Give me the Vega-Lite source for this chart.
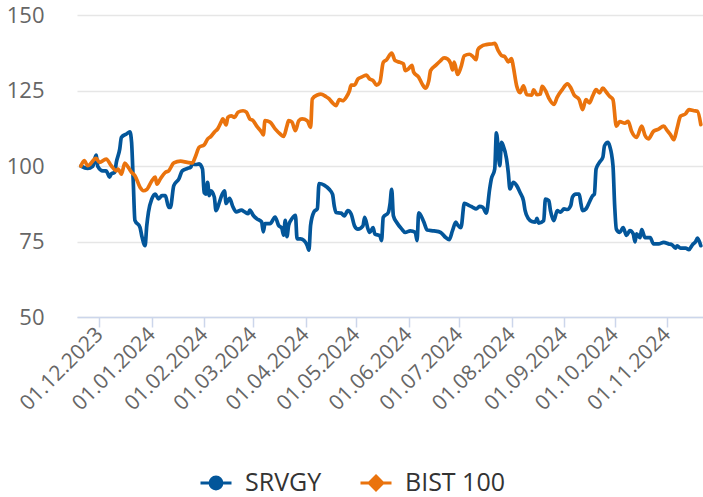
{
  "$schema": "https://vega.github.io/schema/vega-lite/v6.json",
  "width": 626,
  "height": 302,
  "autosize": {"type": "none"},
  "padding": {"left": 77, "top": 15, "right": 0, "bottom": 180},
  "background": "white",
  "config": {"view": {"stroke": null}, "font": "Open Sans"},
  "data": {"values": [
    {"date":"2023-11-20","series":"SRVGY","value":100},
    {"date":"2023-11-24","series":"SRVGY","value":99.2},
    {"date":"2023-11-27","series":"SRVGY","value":99.9},
    {"date":"2023-11-29","series":"SRVGY","value":103.6},
    {"date":"2023-11-30","series":"SRVGY","value":99.9},
    {"date":"2023-12-03","series":"SRVGY","value":98.4},
    {"date":"2023-12-05","series":"SRVGY","value":98.4},
    {"date":"2023-12-06","series":"SRVGY","value":97.4},
    {"date":"2023-12-07","series":"SRVGY","value":96.3},
    {"date":"2023-12-08","series":"SRVGY","value":97.4},
    {"date":"2023-12-10","series":"SRVGY","value":97.9},
    {"date":"2023-12-11","series":"SRVGY","value":101.2},
    {"date":"2023-12-13","series":"SRVGY","value":105.6},
    {"date":"2023-12-14","series":"SRVGY","value":109.5},
    {"date":"2023-12-17","series":"SRVGY","value":110.6},
    {"date":"2023-12-19","series":"SRVGY","value":111.3},
    {"date":"2023-12-20","series":"SRVGY","value":108},
    {"date":"2023-12-21","series":"SRVGY","value":95},
    {"date":"2023-12-22","series":"SRVGY","value":82},
    {"date":"2023-12-25","series":"SRVGY","value":79.7},
    {"date":"2023-12-26","series":"SRVGY","value":77},
    {"date":"2023-12-28","series":"SRVGY","value":73.6},
    {"date":"2023-12-29","series":"SRVGY","value":80.2},
    {"date":"2023-12-30","series":"SRVGY","value":84.7},
    {"date":"2024-01-01","series":"SRVGY","value":89.1},
    {"date":"2024-01-03","series":"SRVGY","value":90.7},
    {"date":"2024-01-05","series":"SRVGY","value":89.1},
    {"date":"2024-01-07","series":"SRVGY","value":90.2},
    {"date":"2024-01-09","series":"SRVGY","value":90.2},
    {"date":"2024-01-11","series":"SRVGY","value":86.3},
    {"date":"2024-01-12","series":"SRVGY","value":86.3},
    {"date":"2024-01-14","series":"SRVGY","value":93.5},
    {"date":"2024-01-17","series":"SRVGY","value":95.7},
    {"date":"2024-01-19","series":"SRVGY","value":98.4},
    {"date":"2024-01-22","series":"SRVGY","value":99.2},
    {"date":"2024-01-24","series":"SRVGY","value":99.6},
    {"date":"2024-01-25","series":"SRVGY","value":100.7},
    {"date":"2024-01-27","series":"SRVGY","value":100.5},
    {"date":"2024-01-29","series":"SRVGY","value":100.7},
    {"date":"2024-01-31","series":"SRVGY","value":99},
    {"date":"2024-02-01","series":"SRVGY","value":91.2},
    {"date":"2024-02-02","series":"SRVGY","value":90.7},
    {"date":"2024-02-03","series":"SRVGY","value":94.6},
    {"date":"2024-02-04","series":"SRVGY","value":90.2},
    {"date":"2024-02-05","series":"SRVGY","value":91.8},
    {"date":"2024-02-07","series":"SRVGY","value":89.7},
    {"date":"2024-02-08","series":"SRVGY","value":85.2},
    {"date":"2024-02-10","series":"SRVGY","value":88},
    {"date":"2024-02-11","series":"SRVGY","value":89.7},
    {"date":"2024-02-13","series":"SRVGY","value":91.8},
    {"date":"2024-02-14","series":"SRVGY","value":87.6},
    {"date":"2024-02-16","series":"SRVGY","value":89.3},
    {"date":"2024-02-18","series":"SRVGY","value":86.5},
    {"date":"2024-02-20","series":"SRVGY","value":84.8},
    {"date":"2024-02-23","series":"SRVGY","value":85.4},
    {"date":"2024-02-25","series":"SRVGY","value":84.8},
    {"date":"2024-02-27","series":"SRVGY","value":84.2},
    {"date":"2024-02-28","series":"SRVGY","value":85.4},
    {"date":"2024-03-01","series":"SRVGY","value":83.7},
    {"date":"2024-03-03","series":"SRVGY","value":82.6},
    {"date":"2024-03-06","series":"SRVGY","value":81.5},
    {"date":"2024-03-07","series":"SRVGY","value":78.2},
    {"date":"2024-03-08","series":"SRVGY","value":80.9},
    {"date":"2024-03-11","series":"SRVGY","value":80.9},
    {"date":"2024-03-14","series":"SRVGY","value":83.1},
    {"date":"2024-03-16","series":"SRVGY","value":80.4},
    {"date":"2024-03-18","series":"SRVGY","value":79.3},
    {"date":"2024-03-19","series":"SRVGY","value":77.1},
    {"date":"2024-03-20","series":"SRVGY","value":82},
    {"date":"2024-03-21","series":"SRVGY","value":76.6},
    {"date":"2024-03-22","series":"SRVGY","value":80.4},
    {"date":"2024-03-24","series":"SRVGY","value":82.6},
    {"date":"2024-03-26","series":"SRVGY","value":83.7},
    {"date":"2024-03-27","series":"SRVGY","value":75.9},
    {"date":"2024-03-29","series":"SRVGY","value":75.9},
    {"date":"2024-03-31","series":"SRVGY","value":75.4},
    {"date":"2024-04-02","series":"SRVGY","value":73.7},
    {"date":"2024-04-03","series":"SRVGY","value":72.1},
    {"date":"2024-04-04","series":"SRVGY","value":80.4},
    {"date":"2024-04-06","series":"SRVGY","value":84.8},
    {"date":"2024-04-08","series":"SRVGY","value":85.9},
    {"date":"2024-04-09","series":"SRVGY","value":94.2},
    {"date":"2024-04-12","series":"SRVGY","value":93.7},
    {"date":"2024-04-15","series":"SRVGY","value":92.3},
    {"date":"2024-04-17","series":"SRVGY","value":90.6},
    {"date":"2024-04-18","series":"SRVGY","value":86.8},
    {"date":"2024-04-19","series":"SRVGY","value":84.6},
    {"date":"2024-04-22","series":"SRVGY","value":84.4},
    {"date":"2024-04-24","series":"SRVGY","value":83.5},
    {"date":"2024-04-26","series":"SRVGY","value":85.2},
    {"date":"2024-04-28","series":"SRVGY","value":84.1},
    {"date":"2024-04-30","series":"SRVGY","value":80.2},
    {"date":"2024-05-02","series":"SRVGY","value":79.1},
    {"date":"2024-05-05","series":"SRVGY","value":80.2},
    {"date":"2024-05-06","series":"SRVGY","value":83},
    {"date":"2024-05-08","series":"SRVGY","value":79.1},
    {"date":"2024-05-09","series":"SRVGY","value":78},
    {"date":"2024-05-11","series":"SRVGY","value":79.6},
    {"date":"2024-05-12","series":"SRVGY","value":77.5},
    {"date":"2024-05-15","series":"SRVGY","value":76.9},
    {"date":"2024-05-16","series":"SRVGY","value":75.3},
    {"date":"2024-05-17","series":"SRVGY","value":83},
    {"date":"2024-05-20","series":"SRVGY","value":84.6},
    {"date":"2024-05-21","series":"SRVGY","value":87.4},
    {"date":"2024-05-22","series":"SRVGY","value":92.3},
    {"date":"2024-05-23","series":"SRVGY","value":83.5},
    {"date":"2024-05-25","series":"SRVGY","value":81.3},
    {"date":"2024-05-28","series":"SRVGY","value":79.1},
    {"date":"2024-05-30","series":"SRVGY","value":78},
    {"date":"2024-06-02","series":"SRVGY","value":78.5},
    {"date":"2024-06-05","series":"SRVGY","value":78},
    {"date":"2024-06-06","series":"SRVGY","value":75.3},
    {"date":"2024-06-07","series":"SRVGY","value":84.5},
    {"date":"2024-06-10","series":"SRVGY","value":81.5},
    {"date":"2024-06-12","series":"SRVGY","value":78.8},
    {"date":"2024-06-16","series":"SRVGY","value":78.5},
    {"date":"2024-06-20","series":"SRVGY","value":78},
    {"date":"2024-06-23","series":"SRVGY","value":76.3},
    {"date":"2024-06-25","series":"SRVGY","value":75.6},
    {"date":"2024-06-27","series":"SRVGY","value":78.6},
    {"date":"2024-06-29","series":"SRVGY","value":81.4},
    {"date":"2024-06-30","series":"SRVGY","value":80.5},
    {"date":"2024-07-02","series":"SRVGY","value":79.6},
    {"date":"2024-07-04","series":"SRVGY","value":87.6},
    {"date":"2024-07-07","series":"SRVGY","value":86.9},
    {"date":"2024-07-09","series":"SRVGY","value":86.3},
    {"date":"2024-07-11","series":"SRVGY","value":85.8},
    {"date":"2024-07-13","series":"SRVGY","value":86.6},
    {"date":"2024-07-15","series":"SRVGY","value":86.3},
    {"date":"2024-07-17","series":"SRVGY","value":84.4},
    {"date":"2024-07-19","series":"SRVGY","value":92.4},
    {"date":"2024-07-20","series":"SRVGY","value":95.7},
    {"date":"2024-07-22","series":"SRVGY","value":99},
    {"date":"2024-07-23","series":"SRVGY","value":111},
    {"date":"2024-07-25","series":"SRVGY","value":100.1},
    {"date":"2024-07-26","series":"SRVGY","value":107.8},
    {"date":"2024-07-27","series":"SRVGY","value":106.7},
    {"date":"2024-07-29","series":"SRVGY","value":102.3},
    {"date":"2024-07-30","series":"SRVGY","value":97.9},
    {"date":"2024-07-31","series":"SRVGY","value":92.4},
    {"date":"2024-08-02","series":"SRVGY","value":94.6},
    {"date":"2024-08-04","series":"SRVGY","value":93.5},
    {"date":"2024-08-06","series":"SRVGY","value":91.2},
    {"date":"2024-08-08","series":"SRVGY","value":88.5},
    {"date":"2024-08-09","series":"SRVGY","value":85.2},
    {"date":"2024-08-11","series":"SRVGY","value":82.5},
    {"date":"2024-08-13","series":"SRVGY","value":81.6},
    {"date":"2024-08-15","series":"SRVGY","value":81.4},
    {"date":"2024-08-16","series":"SRVGY","value":82.7},
    {"date":"2024-08-17","series":"SRVGY","value":81.1},
    {"date":"2024-08-20","series":"SRVGY","value":81.9},
    {"date":"2024-08-21","series":"SRVGY","value":89},
    {"date":"2024-08-23","series":"SRVGY","value":88.5},
    {"date":"2024-08-24","series":"SRVGY","value":85.2},
    {"date":"2024-08-26","series":"SRVGY","value":81.9},
    {"date":"2024-08-28","series":"SRVGY","value":85.2},
    {"date":"2024-08-30","series":"SRVGY","value":84.7},
    {"date":"2024-09-01","series":"SRVGY","value":85.8},
    {"date":"2024-09-03","series":"SRVGY","value":85.6},
    {"date":"2024-09-05","series":"SRVGY","value":86.9},
    {"date":"2024-09-06","series":"SRVGY","value":89.7},
    {"date":"2024-09-08","series":"SRVGY","value":90.7},
    {"date":"2024-09-10","series":"SRVGY","value":90.7},
    {"date":"2024-09-11","series":"SRVGY","value":87.6},
    {"date":"2024-09-12","series":"SRVGY","value":85.2},
    {"date":"2024-09-14","series":"SRVGY","value":85.8},
    {"date":"2024-09-16","series":"SRVGY","value":88},
    {"date":"2024-09-18","series":"SRVGY","value":90.2},
    {"date":"2024-09-19","series":"SRVGY","value":90.7},
    {"date":"2024-09-20","series":"SRVGY","value":99},
    {"date":"2024-09-22","series":"SRVGY","value":101.2},
    {"date":"2024-09-24","series":"SRVGY","value":102.9},
    {"date":"2024-09-25","series":"SRVGY","value":106.7},
    {"date":"2024-09-27","series":"SRVGY","value":107.8},
    {"date":"2024-09-28","series":"SRVGY","value":106.7},
    {"date":"2024-09-30","series":"SRVGY","value":100.1},
    {"date":"2024-10-01","series":"SRVGY","value":86.9},
    {"date":"2024-10-02","series":"SRVGY","value":79.1},
    {"date":"2024-10-04","series":"SRVGY","value":78},
    {"date":"2024-10-06","series":"SRVGY","value":79.6},
    {"date":"2024-10-08","series":"SRVGY","value":77},
    {"date":"2024-10-10","series":"SRVGY","value":78.6},
    {"date":"2024-10-12","series":"SRVGY","value":77.5},
    {"date":"2024-10-13","series":"SRVGY","value":74.9},
    {"date":"2024-10-14","series":"SRVGY","value":77.5},
    {"date":"2024-10-16","series":"SRVGY","value":76.3},
    {"date":"2024-10-17","series":"SRVGY","value":78.9},
    {"date":"2024-10-19","series":"SRVGY","value":76.3},
    {"date":"2024-10-22","series":"SRVGY","value":76.3},
    {"date":"2024-10-24","series":"SRVGY","value":74.2},
    {"date":"2024-10-27","series":"SRVGY","value":74.2},
    {"date":"2024-10-30","series":"SRVGY","value":74.7},
    {"date":"2024-11-02","series":"SRVGY","value":74.2},
    {"date":"2024-11-04","series":"SRVGY","value":73.9},
    {"date":"2024-11-06","series":"SRVGY","value":72.8},
    {"date":"2024-11-07","series":"SRVGY","value":73.6},
    {"date":"2024-11-09","series":"SRVGY","value":72.8},
    {"date":"2024-11-12","series":"SRVGY","value":72.8},
    {"date":"2024-11-14","series":"SRVGY","value":72.3},
    {"date":"2024-11-16","series":"SRVGY","value":73.9},
    {"date":"2024-11-18","series":"SRVGY","value":75},
    {"date":"2024-11-19","series":"SRVGY","value":76.1},
    {"date":"2024-11-21","series":"SRVGY","value":73.6},
    {"date":"2023-11-20","series":"BIST 100","value":100},
    {"date":"2023-11-22","series":"BIST 100","value":101.8},
    {"date":"2023-11-24","series":"BIST 100","value":100.1},
    {"date":"2023-11-29","series":"BIST 100","value":102.5},
    {"date":"2023-12-01","series":"BIST 100","value":101.2},
    {"date":"2023-12-05","series":"BIST 100","value":102.3},
    {"date":"2023-12-08","series":"BIST 100","value":100.1},
    {"date":"2023-12-11","series":"BIST 100","value":98.4},
    {"date":"2023-12-12","series":"BIST 100","value":99},
    {"date":"2023-12-14","series":"BIST 100","value":97.3},
    {"date":"2023-12-16","series":"BIST 100","value":101},
    {"date":"2023-12-18","series":"BIST 100","value":99.6},
    {"date":"2023-12-20","series":"BIST 100","value":97.9},
    {"date":"2023-12-22","series":"BIST 100","value":96.8},
    {"date":"2023-12-25","series":"BIST 100","value":93},
    {"date":"2023-12-27","series":"BIST 100","value":91.8},
    {"date":"2023-12-29","series":"BIST 100","value":92.2},
    {"date":"2024-01-01","series":"BIST 100","value":95.1},
    {"date":"2024-01-03","series":"BIST 100","value":96.3},
    {"date":"2024-01-04","series":"BIST 100","value":94},
    {"date":"2024-01-06","series":"BIST 100","value":95.7},
    {"date":"2024-01-09","series":"BIST 100","value":97.9},
    {"date":"2024-01-11","series":"BIST 100","value":98.4},
    {"date":"2024-01-14","series":"BIST 100","value":101},
    {"date":"2024-01-18","series":"BIST 100","value":101.6},
    {"date":"2024-01-22","series":"BIST 100","value":101.2},
    {"date":"2024-01-25","series":"BIST 100","value":101},
    {"date":"2024-01-27","series":"BIST 100","value":103.4},
    {"date":"2024-01-29","series":"BIST 100","value":106.2},
    {"date":"2024-02-01","series":"BIST 100","value":107},
    {"date":"2024-02-03","series":"BIST 100","value":108.9},
    {"date":"2024-02-05","series":"BIST 100","value":109.8},
    {"date":"2024-02-07","series":"BIST 100","value":111.2},
    {"date":"2024-02-09","series":"BIST 100","value":112.3},
    {"date":"2024-02-11","series":"BIST 100","value":114.5},
    {"date":"2024-02-12","series":"BIST 100","value":115.6},
    {"date":"2024-02-14","series":"BIST 100","value":113.6},
    {"date":"2024-02-15","series":"BIST 100","value":116.1},
    {"date":"2024-02-17","series":"BIST 100","value":116.6},
    {"date":"2024-02-19","series":"BIST 100","value":116.1},
    {"date":"2024-02-21","series":"BIST 100","value":117.8},
    {"date":"2024-02-24","series":"BIST 100","value":118.3},
    {"date":"2024-02-26","series":"BIST 100","value":117.8},
    {"date":"2024-02-28","series":"BIST 100","value":115.6},
    {"date":"2024-03-01","series":"BIST 100","value":115},
    {"date":"2024-03-03","series":"BIST 100","value":113.3},
    {"date":"2024-03-06","series":"BIST 100","value":111.2},
    {"date":"2024-03-07","series":"BIST 100","value":110.3},
    {"date":"2024-03-08","series":"BIST 100","value":115},
    {"date":"2024-03-11","series":"BIST 100","value":114.5},
    {"date":"2024-03-14","series":"BIST 100","value":112.3},
    {"date":"2024-03-17","series":"BIST 100","value":110.6},
    {"date":"2024-03-19","series":"BIST 100","value":109.8},
    {"date":"2024-03-21","series":"BIST 100","value":113.3},
    {"date":"2024-03-22","series":"BIST 100","value":115},
    {"date":"2024-03-24","series":"BIST 100","value":114.5},
    {"date":"2024-03-26","series":"BIST 100","value":111.7},
    {"date":"2024-03-28","series":"BIST 100","value":115},
    {"date":"2024-03-30","series":"BIST 100","value":115.6},
    {"date":"2024-04-02","series":"BIST 100","value":115},
    {"date":"2024-04-04","series":"BIST 100","value":112.8},
    {"date":"2024-04-05","series":"BIST 100","value":122.2},
    {"date":"2024-04-08","series":"BIST 100","value":123.5},
    {"date":"2024-04-10","series":"BIST 100","value":123.8},
    {"date":"2024-04-13","series":"BIST 100","value":123},
    {"date":"2024-04-15","series":"BIST 100","value":122.2},
    {"date":"2024-04-17","series":"BIST 100","value":120.9},
    {"date":"2024-04-19","series":"BIST 100","value":120},
    {"date":"2024-04-21","series":"BIST 100","value":122},
    {"date":"2024-04-23","series":"BIST 100","value":121.6},
    {"date":"2024-04-25","series":"BIST 100","value":122.7},
    {"date":"2024-04-27","series":"BIST 100","value":124.9},
    {"date":"2024-04-28","series":"BIST 100","value":126.8},
    {"date":"2024-04-30","series":"BIST 100","value":126.8},
    {"date":"2024-05-02","series":"BIST 100","value":128.8},
    {"date":"2024-05-04","series":"BIST 100","value":129.4},
    {"date":"2024-05-07","series":"BIST 100","value":130.1},
    {"date":"2024-05-09","series":"BIST 100","value":128.8},
    {"date":"2024-05-11","series":"BIST 100","value":128.3},
    {"date":"2024-05-13","series":"BIST 100","value":126.8},
    {"date":"2024-05-15","series":"BIST 100","value":127.7},
    {"date":"2024-05-17","series":"BIST 100","value":134.3},
    {"date":"2024-05-19","series":"BIST 100","value":135.2},
    {"date":"2024-05-22","series":"BIST 100","value":137.4},
    {"date":"2024-05-24","series":"BIST 100","value":134.9},
    {"date":"2024-05-27","series":"BIST 100","value":134.3},
    {"date":"2024-05-29","series":"BIST 100","value":133.8},
    {"date":"2024-05-30","series":"BIST 100","value":131.6},
    {"date":"2024-06-01","series":"BIST 100","value":132.2},
    {"date":"2024-06-03","series":"BIST 100","value":133.3},
    {"date":"2024-06-04","series":"BIST 100","value":131.1},
    {"date":"2024-06-07","series":"BIST 100","value":129.4},
    {"date":"2024-06-09","series":"BIST 100","value":127.2},
    {"date":"2024-06-11","series":"BIST 100","value":125.8},
    {"date":"2024-06-13","series":"BIST 100","value":128.3},
    {"date":"2024-06-14","series":"BIST 100","value":131.6},
    {"date":"2024-06-17","series":"BIST 100","value":133.3},
    {"date":"2024-06-20","series":"BIST 100","value":134.9},
    {"date":"2024-06-22","series":"BIST 100","value":135.8},
    {"date":"2024-06-24","series":"BIST 100","value":135.5},
    {"date":"2024-06-26","series":"BIST 100","value":133.8},
    {"date":"2024-06-27","series":"BIST 100","value":131.8},
    {"date":"2024-06-28","series":"BIST 100","value":134.4},
    {"date":"2024-06-30","series":"BIST 100","value":130.3},
    {"date":"2024-07-02","series":"BIST 100","value":132.7},
    {"date":"2024-07-04","series":"BIST 100","value":136.5},
    {"date":"2024-07-07","series":"BIST 100","value":137},
    {"date":"2024-07-09","series":"BIST 100","value":136.3},
    {"date":"2024-07-11","series":"BIST 100","value":135.2},
    {"date":"2024-07-12","series":"BIST 100","value":138.5},
    {"date":"2024-07-14","series":"BIST 100","value":139.6},
    {"date":"2024-07-17","series":"BIST 100","value":140.2},
    {"date":"2024-07-20","series":"BIST 100","value":140.4},
    {"date":"2024-07-22","series":"BIST 100","value":140.6},
    {"date":"2024-07-24","series":"BIST 100","value":138.3},
    {"date":"2024-07-26","series":"BIST 100","value":136.6},
    {"date":"2024-07-28","series":"BIST 100","value":136.2},
    {"date":"2024-07-30","series":"BIST 100","value":134.5},
    {"date":"2024-08-01","series":"BIST 100","value":135.6},
    {"date":"2024-08-02","series":"BIST 100","value":132.9},
    {"date":"2024-08-04","series":"BIST 100","value":126.5},
    {"date":"2024-08-06","series":"BIST 100","value":124.3},
    {"date":"2024-08-08","series":"BIST 100","value":126.5},
    {"date":"2024-08-10","series":"BIST 100","value":123.6},
    {"date":"2024-08-13","series":"BIST 100","value":123.5},
    {"date":"2024-08-14","series":"BIST 100","value":125.2},
    {"date":"2024-08-16","series":"BIST 100","value":123.6},
    {"date":"2024-08-18","series":"BIST 100","value":123.8},
    {"date":"2024-08-19","series":"BIST 100","value":126.4},
    {"date":"2024-08-21","series":"BIST 100","value":125},
    {"date":"2024-08-23","series":"BIST 100","value":122.5},
    {"date":"2024-08-26","series":"BIST 100","value":120.4},
    {"date":"2024-08-28","series":"BIST 100","value":122.8},
    {"date":"2024-08-31","series":"BIST 100","value":125.3},
    {"date":"2024-09-03","series":"BIST 100","value":127.2},
    {"date":"2024-09-05","series":"BIST 100","value":125.9},
    {"date":"2024-09-07","series":"BIST 100","value":123.5},
    {"date":"2024-09-10","series":"BIST 100","value":122},
    {"date":"2024-09-12","series":"BIST 100","value":118.7},
    {"date":"2024-09-14","series":"BIST 100","value":122},
    {"date":"2024-09-16","series":"BIST 100","value":120.9},
    {"date":"2024-09-18","series":"BIST 100","value":123.2},
    {"date":"2024-09-20","series":"BIST 100","value":125.3},
    {"date":"2024-09-22","series":"BIST 100","value":124.2},
    {"date":"2024-09-24","series":"BIST 100","value":125.8},
    {"date":"2024-09-26","series":"BIST 100","value":124.5},
    {"date":"2024-09-28","series":"BIST 100","value":123.1},
    {"date":"2024-09-30","series":"BIST 100","value":122},
    {"date":"2024-10-02","series":"BIST 100","value":113.2},
    {"date":"2024-10-04","series":"BIST 100","value":114.7},
    {"date":"2024-10-07","series":"BIST 100","value":114.2},
    {"date":"2024-10-09","series":"BIST 100","value":114.8},
    {"date":"2024-10-11","series":"BIST 100","value":111.5},
    {"date":"2024-10-14","series":"BIST 100","value":109.5},
    {"date":"2024-10-17","series":"BIST 100","value":113.2},
    {"date":"2024-10-19","series":"BIST 100","value":110.1},
    {"date":"2024-10-21","series":"BIST 100","value":109},
    {"date":"2024-10-24","series":"BIST 100","value":111.5},
    {"date":"2024-10-27","series":"BIST 100","value":112.2},
    {"date":"2024-10-30","series":"BIST 100","value":113.2},
    {"date":"2024-11-01","series":"BIST 100","value":111.8},
    {"date":"2024-11-03","series":"BIST 100","value":110.4},
    {"date":"2024-11-05","series":"BIST 100","value":108.7},
    {"date":"2024-11-07","series":"BIST 100","value":112.6},
    {"date":"2024-11-09","series":"BIST 100","value":116.5},
    {"date":"2024-11-12","series":"BIST 100","value":117.3},
    {"date":"2024-11-14","series":"BIST 100","value":118.7},
    {"date":"2024-11-17","series":"BIST 100","value":118.3},
    {"date":"2024-11-19","series":"BIST 100","value":118.1},
    {"date":"2024-11-21","series":"BIST 100","value":113.7}
  ]},
  "encoding": {
    "x": {
      "field": "date", "type": "temporal",
      "scale": {"type": "utc", "domain": [{"year": 2023, "month": 11, "date": 17, "hours": 17, "utc": true}, {"year": 2024, "month": 11, "date": 22, "hours": 7, "utc": true}]},
      "axis": {
        "title": null, "format": "%d.%m.%Y", "tickCount": {"interval": "month", "step": 1},
        "labelAngle": -45, "labelAlign": "right", "labelBaseline": "middle",
        "labelFontSize": 21, "labelColor": "#666666", "labelPadding": 4,
        "domainColor": "#ccd6eb", "domainWidth": 1.5, "tickColor": "#ccd6eb", "tickWidth": 1.5, "tickSize": 10,
        "grid": false, "labelOverlap": false, "labelFlush": false
      }
    },
    "y": {
      "field": "value", "type": "quantitative",
      "scale": {"domain": [50, 150], "nice": false, "zero": false},
      "axis": {
        "title": null, "values": [50, 75, 100, 125, 150], "domain": false, "ticks": false,
        "labelFontSize": 22, "labelColor": "#666666", "labelPadding": 33,
        "gridColor": "#e6e6e6", "gridWidth": 1.5
      }
    },
    "color": {
      "field": "series", "type": "nominal",
      "scale": {"domain": ["SRVGY", "BIST 100"], "range": ["#03569a", "#ea730d"]},
      "legend": {
        "title": null, "orient": "none", "legendX": 122, "legendY": 451, "direction": "horizontal",
        "labelFontSize": 25, "labelColor": "#333333", "labelFont": "Open Sans",
        "symbolSize": 961, "symbolStrokeWidth": 3, "labelOffset": 12, "columnPadding": 32,
        "symbolType": "M-1,0H1M-0.38,0A0.38,0.38 0 1,0 0.38,0A0.38,0.38 0 1,0 -0.38,0Z",
        "encoding": {
          "symbols": {
            "shape": {"value": {"expr": "datum.value === 'SRVGY' ? 'M-1,0H1M-0.38,0A0.38,0.38 0 1,0 0.38,0A0.38,0.38 0 1,0 -0.38,0Z' : 'M-1,0H1M0,-0.44L0.44,0L0,0.44L-0.44,0Z'"}},
            "fill": {"value": {"expr": "datum.value === 'SRVGY' ? '#03569a' : '#ea730d'"}},
            "strokeWidth": {"value": 3}
          }
        }
      }
    }
  },
  "layer": [
    {
      "transform": [{"filter": "datum.series === 'SRVGY'"}],
      "mark": {"type": "line", "strokeWidth": 3.7, "interpolate": "monotone", "strokeJoin": "round", "strokeCap": "round"}
    },
    {
      "transform": [{"filter": "datum.series === 'BIST 100'"}],
      "mark": {"type": "line", "strokeWidth": 3.7, "interpolate": "monotone", "strokeJoin": "round", "strokeCap": "round"}
    }
  ]
}
